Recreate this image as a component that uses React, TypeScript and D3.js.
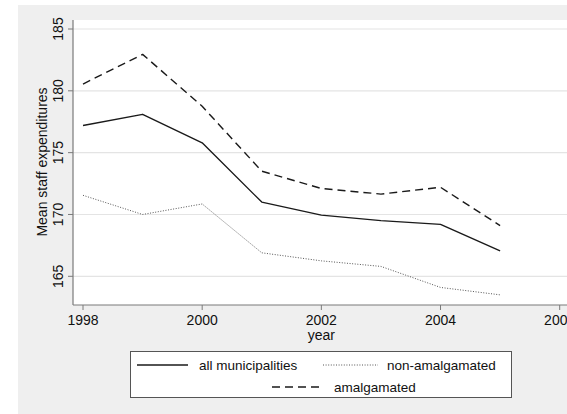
import React from "react";
import * as d3 from "d3";

const years = [1998, 1999, 2000, 2001, 2002, 2003, 2004, 2005];
const allMunicipalities = [177.2, 178.1, 175.8, 171.0, 169.95, 169.5, 169.2, 167.05];
const nonAmalgamated = [171.55, 170.0, 170.85, 166.9, 166.25, 165.8, 164.1, 163.5];
const amalgamated = [180.55, 182.95, 178.75, 173.5, 172.1, 171.65, 172.2, 169.1];
const xTicks = [1998, 2000, 2002, 2004, 2006];
const yTicks = [165, 170, 175, 180, 185];
const seriesNames = ["all municipalities", "non-amalgamated", "amalgamated"];

const W = 567;
const H = 414;
const font = "'Liberation Sans', Arial, sans-serif";

export default function App() {
  const x = d3.scaleLinear().domain([1998, 2006]).range([83, 559.7]);
  const y = d3.scaleLinear().domain([165, 185]).range([276.3, 29]);
  const plotL = 73, plotT = 20, plotB = 305, plotR = 567;

  const line = d3
    .line<number>()
    .x((_, i) => x(years[i]))
    .y((d) => y(d));

  const series = [
    { name: seriesNames[0], data: allMunicipalities, dash: "", width: 1.4, color: "#1a1a1a" },
    { name: seriesNames[1], data: nonAmalgamated, dash: "1 1.6", width: 1, color: "#555" },
    { name: seriesNames[2], data: amalgamated, dash: "8 5", width: 1.4, color: "#1a1a1a" },
  ];

  return (
    <svg width={W} height={H} style={{ position: "absolute", left: 0, top: 0 }} fontFamily={font}>
      <rect x={0} y={0} width={W} height={H} fill="#fff" />
      <rect x={18} y={5} width={W - 18} height={H - 5} fill="#efefef" />
      <rect x={plotL} y={plotT} width={plotR - plotL} height={plotB - plotT} fill="#fff" />
      {yTicks.map((t) => (
        <line key={t} x1={plotL} x2={plotR} y1={y(t)} y2={y(t)} stroke="#e4e4e4" strokeWidth={1.2} />
      ))}
      {/* axes */}
      <line x1={plotL} x2={plotL} y1={plotT} y2={plotB} stroke="#7a7a7a" strokeWidth={1.2} />
      <line x1={plotL} x2={plotR} y1={plotB} y2={plotB} stroke="#7a7a7a" strokeWidth={1.2} />
      {yTicks.map((t) => (
        <g key={t}>
          <line x1={plotL - 5} x2={plotL} y1={y(t)} y2={y(t)} stroke="#7a7a7a" />
          <text
            transform={`translate(${62.5},${y(t)}) rotate(-90)`}
            textAnchor="middle"
            fontSize={14}
            fill="#111"
          >
            {t}
          </text>
        </g>
      ))}
      {xTicks.map((t) => (
        <g key={t}>
          <line x1={x(t)} x2={x(t)} y1={plotB} y2={plotB + 5} stroke="#7a7a7a" />
          <text x={x(t)} y={325} textAnchor="middle" fontSize={14} fill="#111">
            {t}
          </text>
        </g>
      ))}
      <text x={x(2002)} y={339.5} textAnchor="middle" fontSize={14} fill="#111">
        year
      </text>
      <text
        transform={`translate(${47},${162}) rotate(-90)`}
        textAnchor="middle"
        fontSize={14}
        fill="#111"
      >
        Mean staff expenditures
      </text>
      {series.map((s) => (
        <path
          key={s.name}
          d={line(s.data) || ""}
          fill="none"
          stroke={s.color}
          strokeWidth={s.width}
          strokeDasharray={s.dash}
          strokeLinejoin="round"
        />
      ))}
      {/* legend */}
      <rect x={130.5} y={351.5} width={381} height={46} fill="#fff" stroke="#555" strokeWidth={1} />
      <line x1={137} x2={188} y1={365} y2={365} stroke="#1a1a1a" strokeWidth={1.4} />
      <text x={199} y={369.5} fontSize={13.5} fill="#111">{seriesNames[0]}</text>
      <line x1={323} x2={378} y1={365} y2={365} stroke="#555" strokeWidth={1} strokeDasharray="1 1.6" />
      <text x={387} y={369.5} fontSize={13.5} fill="#111">{seriesNames[1]}</text>
      <line x1={272} x2={323} y1={387} y2={387} stroke="#1a1a1a" strokeWidth={1.4} strokeDasharray="8 5" />
      <text x={334} y={391.5} fontSize={13.5} fill="#111">{seriesNames[2]}</text>
    </svg>
  );
}
